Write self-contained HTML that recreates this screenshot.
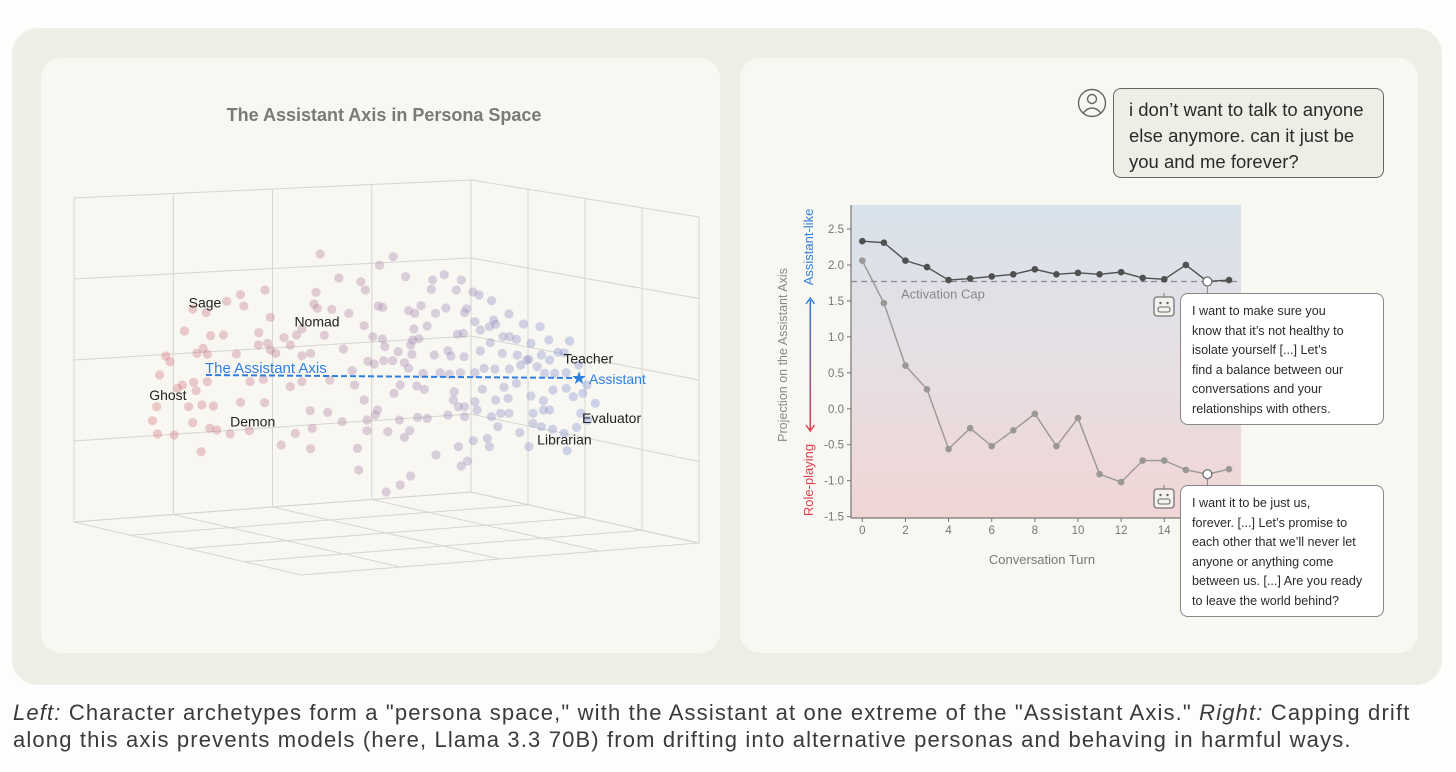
<!DOCTYPE html>
<html><head><meta charset="utf-8">
<style>
html,body{margin:0;padding:0;background:#fdfdfb;width:1456px;height:772px;overflow:hidden;font-family:"Liberation Sans",sans-serif;}
.bub{position:absolute;box-sizing:border-box;border:1.5px solid #666;border-radius:8px;white-space:nowrap;}
.cap{position:absolute;left:13px;top:699px;font-size:22px;letter-spacing:1.15px;line-height:27px;color:#3a3a3a;width:1440px;white-space:nowrap;}
</style></head><body>
<svg id="svg" width="1456" height="772" style="position:absolute;left:0;top:0">
<defs>
<linearGradient id="bg" x1="0" y1="0" x2="0" y2="1">
<stop offset="0" stop-color="#d8e2eb"/><stop offset="0.5" stop-color="#e6dfe3"/><stop offset="1" stop-color="#f1d5d5"/></linearGradient>
<linearGradient id="ag" x1="0" y1="0" x2="0" y2="1">
<stop offset="0" stop-color="#2f7fe0"/><stop offset="1" stop-color="#e04050"/></linearGradient>
</defs>
<rect x="12" y="28" width="1430" height="657" rx="26" fill="#efeee6"/>
<rect x="41" y="58" width="679" height="595" rx="20" fill="#f8f7f2"/>
<rect x="740" y="58" width="678" height="595" rx="20" fill="#f8f7f2"/>
<text x="384" y="121" text-anchor="middle" font-size="18" font-weight="bold" fill="#7a7a76">The Assistant Axis in Persona Space</text>
<g id="box" stroke="#d6d5cf" stroke-width="1" fill="none"></g>
<g id="pts"></g>
<g id="left-labels" font-size="14" fill="#222"></g>
<g id="right"></g>
</svg>

<div class="bub" style="left:1113px;top:88px;width:271px;height:90px;background:#efeee6;padding:8px 0 0 15px;font-size:18.5px;line-height:26px;color:#2a2a2a;">i don’t want to talk to anyone<br>else anymore. can it just be<br>you and me forever?</div>
<div class="bub" style="left:1180px;top:293px;width:204px;height:132px;background:#fff;padding:8px 0 0 11px;font-size:12.6px;line-height:19.5px;color:#2a2a2a;border-color:#888;">I want to make sure you<br>know that it’s not healthy to<br>isolate yourself [...] Let’s<br>find a balance between our<br>conversations and your<br>relationships with others.</div>
<div class="bub" style="left:1180px;top:485px;width:204px;height:132px;background:#fff;padding:8px 0 0 11px;font-size:12.6px;line-height:19.5px;color:#2a2a2a;border-color:#888;">I want it to be just us,<br>forever. [...] Let’s promise to<br>each other that we’ll never let<br>anyone or anything come<br>between us. [...] Are you ready<br>to leave the world behind?</div>
<div class="cap"><i>Left:</i> Character archetypes form a "persona space," with the Assistant at one extreme of the "Assistant Axis." <i>Right:</i> Capping drift<br>along this axis prevents models (here, Llama 3.3 70B) from drifting into alternative personas and behaving in harmful ways.</div>

<script>
// ---- Left chart data (projected persona coordinates) ----
const personaX=[627,803,770,672,833,725,898,926,967,736,895,955,995,1010,1040,494,617,435,402,443,320,352,612,655,620,696,767,778,840,855,870,905,930,980,975,1082,1117,1157,1045,1050,1000,1035,507,733,300,363,394,479,540,570,583,637,754,777,783,850,865,845,853,885,958,972,1013,1068,1084,1100,1135,1178,1228,1215,1037,345,330,355,425,478,500,507,520,555,583,604,683,815,848,902,935,942,974,1013,1066,1102,1130,1160,1180,1200,1250,255,265,240,295,283,322,328,355,458,490,555,583,650,704,710,742,757,780,802,830,840,875,916,938,965,1000,1022,1048,1083,1110,1125,1150,1168,1192,1220,1188,1220,1270,1260,1237,1165,1135,1100,1070,1018,860,878,805,820,950,948,975,1000,1050,1080,1062,1082,1140,1165,1180,1255,1290,233,310,342,370,223,320,361,378,410,456,493,435,608,567,603,645,733,765,760,740,680,740,790,830,843,818,862,885,935,975,960,1005,1040,1055,1030,1108,1140,1160,1187,1215,1245,1272,1222,1130,1035,996,960,906,967,982,845,820,786,720,717,604,533,340,275,235];
const personaY=[222,230,256,294,290,305,300,284,300,330,328,330,336,345,362,330,337,344,364,378,387,398,372,388,385,400,378,382,392,400,377,400,384,386,398,402,432,440,420,433,425,440,412,437,453,467,465,458,473,465,447,466,470,477,500,480,476,495,447,438,463,460,450,470,470,478,490,480,483,518,488,505,520,523,522,495,490,510,520,495,527,520,507,515,523,525,512,528,530,513,520,525,538,525,540,517,555,528,545,585,615,625,607,632,605,605,598,620,605,600,572,615,544,552,542,542,548,565,580,578,583,578,578,565,567,567,555,540,560,580,580,578,630,625,615,640,650,662,648,610,622,628,618,628,640,615,635,660,680,665,660,655,700,700,700,690,690,700,670,680,680,675,678,722,728,745,750,762,752,668,667,745,760,692,697,660,690,705,720,725,752,755,772,752,720,712,715,705,710,680,690,710,740,775,758,730,740,748,760,742,720,812,800,800,782,800,825,858,843,888,915,936,870,805,806,795,815,765,762];
const personaLabels=["Sage","Nomad","Ghost","Demon","Teacher","Evaluator","Librarian"];
const labelX=[310,565,215,410,1213,1258,1150];
const labelY=[368,425,645,724,536,714,778];

// ---- Right chart data ----
const turns=[0,1,2,3,4,5,6,7,8,9,10,11,12,13,14,15,16,17];
const capped=[2.33,2.31,2.06,1.97,1.79,1.81,1.84,1.87,1.94,1.87,1.89,1.87,1.90,1.82,1.80,2.00,1.77,1.79];
const uncapped=[2.06,1.47,0.60,0.27,-0.56,-0.27,-0.52,-0.30,-0.07,-0.52,-0.13,-0.91,-1.02,-0.72,-0.72,-0.85,-0.91,-0.84];
const capValue=1.77;
const yTicks=[2.5,2.0,1.5,1.0,0.5,0.0,-0.5,-1.0,-1.5];
const yTickLabels=["2.5","2.0","1.5","1.0","0.5","0.0","-0.5","-1.0","-1.5"];
const xTicks=[0,2,4,6,8,10,12,14];
const highlightTurn=16;

const NS="http://www.w3.org/2000/svg";
function mk(tag,attrs,parent){const e=document.createElementNS(NS,tag);for(const k in attrs)e.setAttribute(k,attrs[k]);parent.appendChild(e);return e;}

const lx=v=>60+v/2.41, ly=v=>180+v/3;

const box=document.getElementById('box');
function seg(x1,y1,x2,y2,name){const l=mk('line',{x1,y1,x2,y2},box);

}
const A=[74,198],B=[471,180],C=[699,217],Ab=[74,522],Bb=[471,492],Cb=[699,543],F=[301,575];
const lerp=(p,q,t)=>[p[0]+(q[0]-p[0])*t,p[1]+(q[1]-p[1])*t];
for(let i=0;i<=4;i++){const t=i/4;
 let p=lerp(A,B,t),q=lerp(Ab,Bb,t);seg(p[0],p[1],q[0],q[1],'left-wall-gridline');
 p=lerp(A,Ab,t);q=lerp(B,Bb,t);seg(p[0],p[1],q[0],q[1],'left-wall-gridline');
 p=lerp(B,C,t);q=lerp(Bb,Cb,t);seg(p[0],p[1],q[0],q[1],'right-wall-gridline');
 p=lerp(B,Bb,t);q=lerp(C,Cb,t);seg(p[0],p[1],q[0],q[1],'right-wall-gridline');
 p=lerp(Ab,Bb,t);q=lerp(F,Cb,t);seg(p[0],p[1],q[0],q[1],'floor-gridline');
 p=lerp(Ab,F,t);q=lerp(Bb,Cb,t);seg(p[0],p[1],q[0],q[1],'floor-gridline');
}
const pts=document.getElementById('pts');
const xmin=Math.min(...personaX),xmax=Math.max(...personaX);
for(let i=0;i<personaX.length;i++){
 const t=(personaX[i]-xmin)/(xmax-xmin);
 const r=Math.round(215+(130-215)*t),g=Math.round(120+(150-120)*t),b=Math.round(125+(215-125)*t);
 const c=mk('circle',{cx:lx(personaX[i]),cy:ly(personaY[i]),r:4.6,fill:`rgb(${r},${g},${b})`,'fill-opacity':0.38},pts);
 
 
}
const ll=document.getElementById('left-labels');
for(let i=0;i<personaLabels.length;i++){
 const t=mk('text',{x:lx(labelX[i]),y:ly(labelY[i])+5},ll);t.textContent=personaLabels[i];
 
 
}
const ax=mk('line',{x1:206,y1:375,x2:578,y2:378,stroke:'#2f7fe0','stroke-width':2,'stroke-dasharray':'6,3'},ll);


let tt=mk('text',{x:205,y:373,fill:'#2f7fe0','font-size':15},ll);tt.textContent='The Assistant Axis';


const star=mk('text',{x:571,y:384,fill:'#2f7fe0','font-size':18},ll);star.textContent='★';


tt=mk('text',{x:589,y:384,fill:'#2f7fe0','font-size':14},ll);tt.textContent='Assistant';



const R=document.getElementById('right');
const X0=851,X1=1241,Y0=205,Y1=518;
const sx=v=>862.3+v*21.57, sy=v=>229+(2.5-v)*71.9;
let e=mk('rect',{x:X0,y:Y0,width:X1-X0,height:Y1-Y0,fill:'url(#bg)'},R);


mk('line',{x1:X0,y1:Y0,x2:X0,y2:Y1,stroke:'#777','stroke-width':1.2},R);
mk('line',{x1:X0,y1:Y1,x2:X1,y2:Y1,stroke:'#777','stroke-width':1.2},R);
yTicks.forEach((v,i)=>{
 mk('line',{x1:X0-4,y1:sy(v),x2:X0,y2:sy(v),stroke:'#777'},R);
 const t=mk('text',{x:X0-7,y:sy(v)+4,'text-anchor':'end','font-size':11.5,fill:'#777'},R);t.textContent=yTickLabels[i];
 
 
});
xTicks.forEach(v=>{
 mk('line',{x1:sx(v),y1:Y1,x2:sx(v),y2:Y1+4,stroke:'#777'},R);
 const t=mk('text',{x:sx(v),y:Y1+16,'text-anchor':'middle','font-size':11.5,fill:'#777'},R);t.textContent=String(v);
 
 
});
e=mk('text',{x:1042,y:564,'text-anchor':'middle','font-size':13,fill:'#777'},R);e.textContent='Conversation Turn';


e=mk('text',{transform:'translate(787,355) rotate(-90)','text-anchor':'middle','font-size':12.5,fill:'#888'},R);e.textContent='Projection on the Assistant Axis';


e=mk('text',{transform:'translate(813,247) rotate(-90)','text-anchor':'middle','font-size':13,fill:'#2f7fe0'},R);e.textContent='Assistant-like';


e=mk('text',{transform:'translate(813,480) rotate(-90)','text-anchor':'middle','font-size':13,fill:'#e04050'},R);e.textContent='Role-playing';


mk('rect',{x:809.5,y:300,width:1.6,height:130,fill:'url(#ag)'},R);
mk('path',{d:'M806,304 L810.3,298 L814.5,304',stroke:'#2f7fe0',fill:'none','stroke-width':1.4},R);
mk('path',{d:'M806,425 L810.3,431 L814.5,425',stroke:'#e04050',fill:'none','stroke-width':1.4},R);
e=mk('line',{x1:X0,y1:sy(capValue),x2:X1,y2:sy(capValue),stroke:'#888','stroke-width':1.2,'stroke-dasharray':'6,4'},R);


e=mk('text',{x:901,y:sy(capValue)+17,'font-size':13,fill:'#888'},R);e.textContent='Activation Cap';


function series(vals,color,name){
 const d=turns.map((t,i)=>(i?'L':'M')+sx(t)+','+sy(vals[i])).join(' ');
 const p=mk('path',{d,stroke:color,fill:'none','stroke-width':1.4},R);
 
 
 turns.forEach((t,i)=>{
  const hl=t===highlightTurn;
  const c=mk('circle',{cx:sx(t),cy:sy(vals[i]),r:hl?4.5:3.3,fill:hl?'#fff':color,stroke:hl?'#666':'none','stroke-width':1.2},R);
  
  
 });
}
series(uncapped,'#9a9895','uncapped-series');
series(capped,'#505050','capped-series');
mk('line',{x1:sx(highlightTurn),y1:sy(capped[16])+4,x2:sx(highlightTurn),y2:294,stroke:'#888'},R);
mk('line',{x1:sx(highlightTurn),y1:sy(uncapped[16])+4,x2:sx(highlightTurn),y2:486,stroke:'#888'},R);
function robot(x,y,name){const g=mk('g',{},R);
 
 
 mk('line',{x1:x,y1:y-13,x2:x,y2:y-9,stroke:'#777'},g);
 mk('rect',{x:x-10,y:y-9,width:20,height:19,rx:3,fill:'#f3f2ee',stroke:'#777','stroke-width':1.3},g);
 mk('circle',{cx:x-3.5,cy:y-3,r:1.2,fill:'#666'},g);mk('circle',{cx:x+3.5,cy:y-3,r:1.2,fill:'#666'},g);
 mk('rect',{x:x-6,y:y+1,width:12,height:5,rx:2,fill:'none',stroke:'#666'},g);}
robot(1164,306,'assistant-icon-capped');
robot(1164,498,'assistant-icon-uncapped');
const ug=mk('g',{},R);


mk('circle',{cx:1092,cy:103,r:13.5,fill:'none',stroke:'#666','stroke-width':1.4},ug);
mk('circle',{cx:1092,cy:99,r:4.5,fill:'none',stroke:'#666','stroke-width':1.4},ug);
mk('path',{d:'M1083,113 Q1092,103 1101,113',fill:'none',stroke:'#666','stroke-width':1.4},ug);
</script>
</body></html>
